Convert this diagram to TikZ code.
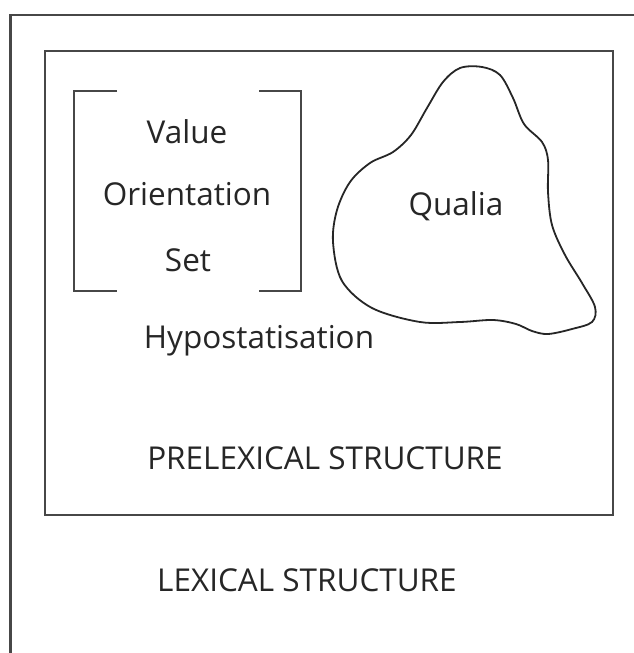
\documentclass[tikz,border=0pt]{standalone}
\usepackage{fontspec}
\setmainfont{Open Sans}
\begin{document}
\begin{tikzpicture}[x=1pt,y=-1pt,
  frame/.style={draw=black!72,line width=2.2pt},
  brk/.style={draw=black!72,line width=2pt},
  blob/.style={draw=black!85,line width=1.8pt},
  lbl/.style={anchor=base,inner sep=0pt,text=black!85,font=\fontsize{31.5}{38}\selectfont}]
\useasboundingbox (0,0) rectangle (634,653);
% outer (lexical) frame, open to the right and bottom
\draw[frame] (10.5,653) -- (10.5,15) -- (634,15);
% inner (prelexical) box
\draw[frame] (45,51) rectangle (613,515);
% brackets round the value orientation set
\draw[brk] (117,91) -- (74,91) -- (74,291) -- (117,291);
\draw[brk] (259,91) -- (301,91) -- (301,291) -- (259,291);
% qualia outline
\draw[blob] plot[smooth cycle,tension=0.55] coordinates {
  (460,68) (482,67) (500,75) (513,98) (524,124) (542,142) (548,160)
  (548,192) (552,225) (565,255) (582,283) (595,307) (592,322)
  (572,329) (548,334) (532,331) (516,324) (493,320) (460,322)
  (420,322) (372,308) (342,281) (333,242) (337,210) (350,182)
  (370,163) (393,152) (411,135) (427,108) (443,82)};
% labels
\node[lbl] (value) at (187,143) {Value};
\node[lbl] (orient) at (187,205) {Orientation};
\node[lbl] (set) at (188,271) {Set};
\node[lbl] (qualia) at (456,215) {Qualia};
\node[lbl] (hypo) at (259,348) {Hypostatisation};
\node[lbl] (prelex) at (325,469) {PRELEXICAL STRUCTURE};
\node[lbl] (lex) at (307,591) {LEXICAL STRUCTURE};
\end{tikzpicture}
\end{document}
